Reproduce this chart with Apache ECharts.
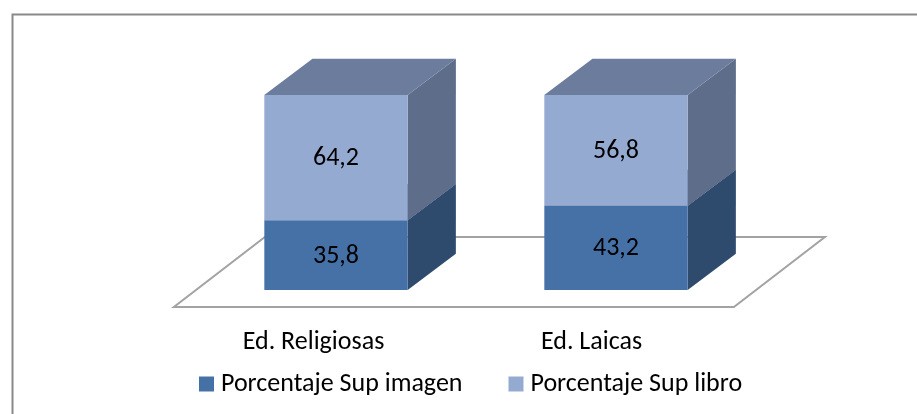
<!DOCTYPE html>
<html>
<head>
<meta charset="utf-8">
<script src="https://cdn.jsdelivr.net/npm/echarts@6/dist/echarts.min.js"></script>
<style>
  html, body { margin: 0; padding: 0; background: #fff; }
  #chart { width: 917px; height: 414px; }
</style>
</head>
<body>
<div id="chart"></div>
<script>
var categories = ['Ed. Religiosas', 'Ed. Laicas'];
var supImagen = [35.8, 43.2];
var supLibro = [64.2, 56.8];
var seriesNames = ['Porcentaje Sup imagen', 'Porcentaje Sup libro'];

var FONT = 'Carlito, Lato, sans-serif';
// front, side, top colours of each segment
var shades = [
  { front: '#4571a7', side: '#2e4a6d', top: '#51688f' },
  { front: '#94aad0', side: '#5e6d8a', top: '#6b7c9c' }
];

function fmt(v) {
  return String(v).replace('.', ',');
}

function boxRenderer(shade) {
  return function (params, api) {
    var cat = api.value(0);
    var lo = api.coord([cat, api.value(1)]);
    var hi = api.coord([cat, api.value(2)]);
    var band = api.size([1, 0])[0];
    var w = band * 0.512;
    var x0 = lo[0] - w / 2, x1 = lo[0] + w / 2;
    var yb = lo[1], yt = hi[1];
    var dx = w * 0.336, dy = -dx * 0.75;
    return {
      type: 'group',
      children: [
        { type: 'polygon', shape: { points: [[x1, yb], [x1 + dx, yb + dy], [x1 + dx, yt + dy], [x1, yt]] },
          style: { fill: shade.side } },
        { type: 'polygon', shape: { points: [[x0, yt], [x1, yt], [x1 + dx, yt + dy], [x0 + dx, yt + dy]] },
          style: { fill: shade.top } },
        { type: 'rect', shape: { x: x0, y: yt, width: w, height: yb - yt },
          style: { fill: shade.front } },
        { type: 'text', x: lo[0], y: (yb + yt) / 2 + 1,
          style: { text: fmt(api.value(3)), fill: '#000', font: '26px ' + FONT, align: 'center', verticalAlign: 'middle' } }
      ]
    };
  };
}

var imagenData = supImagen.map(function (v, i) { return [i, 0, v, v]; });
var libroData = supLibro.map(function (v, i) { return [i, supImagen[i], supImagen[i] + v, v]; });

var chart = echarts.init(document.getElementById('chart'));
chart.setOption({
  animation: false,
  backgroundColor: '#fff',
  graphic: [{
    type: 'rect', left: 10, top: 12, silent: true,
    shape: { width: 940, height: 440 },
    style: { fill: 'none', stroke: '#8a8a8a', lineWidth: 2 }
  }],
  grid: { left: 196, width: 560, top: 95, height: 195 },
  legend: {
    left: 194, top: 364,
    itemWidth: 15, itemHeight: 15, itemGap: 46,
    icon: 'rect',
    textStyle: { fontFamily: FONT, fontSize: 26, color: '#000', lineHeight: 30, padding: [0, 0, 0, 2] },
    data: [
      { name: seriesNames[0], itemStyle: { color: shades[0].front } },
      { name: seriesNames[1], itemStyle: { color: shades[1].front } }
    ]
  },
  xAxis: {
    type: 'category',
    data: categories,
    axisLine: { show: false },
    axisTick: { show: false },
    axisLabel: {
      margin: 37,
      fontFamily: FONT, fontSize: 26, color: '#000',
      formatter: function (v, i) { return '{c' + i + '|' + v + '}'; },
      rich: {
        c0: { fontFamily: FONT, fontSize: 26, lineHeight: 30, padding: [0, 45, 0, 0] },
        c1: { fontFamily: FONT, fontSize: 26, lineHeight: 30, padding: [0, 49, 0, 0] }
      }
    }
  },
  yAxis: { type: 'value', min: 0, max: 100, show: false },
  series: [
    {
      type: 'custom',
      silent: true,
      data: [[0]],
      renderItem: function (params, api) {
        var c = api.coord([0, 0]);
        var band = api.size([1, 0])[0];
        var l = c[0] - band / 2, r = l + band * categories.length;
        var y = c[1];
        var fy = 17, by = -53, k = 1.3;
        return {
          type: 'polygon',
          shape: { points: [[l - fy * k, y + fy], [r - fy * k, y + fy], [r - by * k, y + by], [l - by * k, y + by]] },
          style: { fill: '#fff', stroke: '#a3a3a3', lineWidth: 2 }
        };
      }
    },
    { name: seriesNames[0], type: 'custom', data: imagenData, renderItem: boxRenderer(shades[0]) },
    { name: seriesNames[1], type: 'custom', data: libroData, renderItem: boxRenderer(shades[1]) }
  ]
});
</script>
</body>
</html>
